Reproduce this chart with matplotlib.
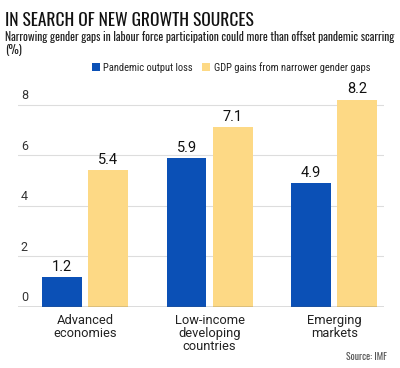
import matplotlib
matplotlib.use("Agg")
import matplotlib.pyplot as plt
import matplotlib.transforms as mtransforms
import numpy as np

categories = ["Advanced\neconomies", "Low-income\ndeveloping\ncountries", "Emerging\nmarkets"]
series_names = ["Pandemic output loss", "GDP gains from narrower gender gaps"]
output_loss = [1.2, 5.9, 4.9]
gdp_gains = [5.4, 7.1, 8.2]
yticks = [0, 2, 4, 6, 8]

blue = "#0b50b6"
yellow = "#fdd985"

plt.rcParams['font.family'] = ['Roboto', 'DejaVu Sans']
COND = ['Roboto Condensed', 'DejaVu Sans']
NARROW = ['Oswald', 'Roboto Condensed', 'DejaVu Sans']

fig = plt.figure(figsize=(4.0, 3.68), dpi=100)
ax = fig.add_axes([0.045, 0.1658, 0.915, 0.605])

x = np.arange(len(categories))
w = 0.32
off = 0.185
b1 = ax.bar(x - off, output_loss, w, color=blue, label=series_names[0], zorder=3)
b2 = ax.bar(x + off, gdp_gains, w, color=yellow, label=series_names[1], zorder=3)

for bars, vals in ((b1, output_loss), (b2, gdp_gains)):
    for r, v in zip(bars, vals):
        ax.text(r.get_x() + r.get_width() / 2, v + 0.12, f"{v:.1f}",
                ha='center', va='bottom', fontsize=10.5, color='#111111')

ax.set_xlim(-0.538, 2.40)
ax.set_ylim(0, 8.8)
ax.set_yticks(yticks)
ax.set_yticklabels([])
ax.tick_params(axis='both', length=0)
ax.yaxis.grid(True, color='#dddddd', linewidth=0.8, zorder=0)
ax.set_axisbelow(True)
for s in ax.spines.values():
    s.set_visible(False)
ax.axhline(0, color='#555555', linewidth=1.0, zorder=4)

trans = mtransforms.blended_transform_factory(ax.transAxes, ax.transData)
for t in yticks:
    ax.text(0.008, t + 0.1, str(t), transform=trans, ha='left', va='bottom',
            fontsize=9, color='#333333')

ax.set_xticks(x)
ax.set_xticklabels(categories, fontsize=9.3, color='#222222', linespacing=1.0)
ax.tick_params(axis='x', pad=5)

fig.text(0.013, 0.968, "IN SEARCH OF NEW GROWTH SOURCES", fontsize=12.5, fontweight='bold',
         family=['Oswald', 'DejaVu Sans'], ha='left', va='top', color='#111111')
fig.text(0.013, 0.915, "Narrowing gender gaps in labour force participation could more than offset pandemic scarring\n(%)",
         fontsize=8.3, fontweight=300, family=NARROW,
         ha='left', va='top', color='#222222', linespacing=1.0)

leg = fig.legend(handles=[b1, b2], labels=series_names, loc='upper right',
                 bbox_to_anchor=(0.95, 0.858), ncol=2, frameon=False,
                 handlelength=0.75, handleheight=0.75, handletextpad=0.35, columnspacing=0.9,
                 prop={'family': COND, 'size': 7.6})
for t in leg.get_texts():
    t.set_color('#222222')

fig.text(0.968, 0.015, "Source: IMF", fontsize=7, fontweight=300, ha='right', va='bottom',
         color='#555555', family=NARROW)

fig.savefig("out.png", dpi=100)
